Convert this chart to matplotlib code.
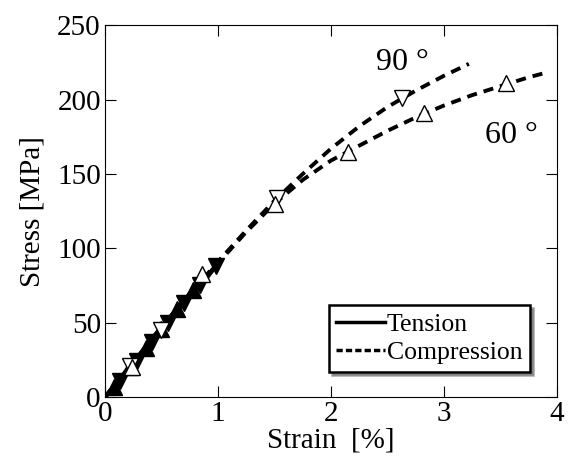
import matplotlib
matplotlib.use('Agg')
import matplotlib.pyplot as plt

plt.rcParams['font.family'] = 'Liberation Serif'

# compression curves
comp90_strain = [0, 0.25, 0.5, 0.75, 1.0, 1.25, 1.5, 1.75, 2.0, 2.25, 2.5, 2.75, 3.0, 3.22]
comp90_stress = [0, 23, 46, 69, 91, 112, 132, 150, 167, 182, 195, 206, 216, 224]
comp60_strain = [0, 0.25, 0.5, 0.75, 1.0, 1.25, 1.5, 1.75, 2.0, 2.25, 2.5, 2.75, 3.0, 3.25, 3.5, 3.75, 3.9]
comp60_stress = [0, 23, 46, 69, 90, 111, 130, 146, 159, 169, 179, 188, 196, 203, 209, 215, 218]

comp90_mk_x = [0.22, 0.5, 1.52, 2.63]
comp90_mk_y = [21, 45, 134, 201]
comp60_mk_x = [0.24, 0.86, 1.5, 2.15, 2.82, 3.55]
comp60_mk_y = [20, 83, 130, 165, 191, 211]

# tension curves
ten90_strain = [0, 0.1, 0.2, 0.3, 0.4, 0.5, 0.6, 0.7, 0.8, 0.9, 1.0]
ten90_stress = [0, 9, 18, 27, 36, 45, 54, 63, 72, 81, 90]
ten60_strain = [0, 0.1, 0.2, 0.3, 0.4, 0.5, 0.6, 0.7, 0.8]
ten60_stress = [0, 9, 19, 28, 38, 47, 56, 65, 74]
ten0_strain = [0, 0.15, 0.3, 0.45, 0.6, 0.75, 0.9, 1.02]
ten0_stress = [0, 13, 27, 40, 54, 67, 80, 92]

ten90_mk_x = [0.13, 0.28, 0.42, 0.56, 0.7, 0.84, 0.98]
ten90_mk_y = [11, 24, 37, 50, 63, 75, 88]
ten60_mk_x = [0.08, 0.22, 0.36, 0.5, 0.64, 0.78]
ten60_mk_y = [7, 20, 33, 46, 59, 72]

fig = plt.figure(figsize=(5.69, 4.66), dpi=100)
ax = fig.add_axes([0.1845, 0.148, 0.7945, 0.798])

dash = (0, (2.6, 1.8))
ax.plot(comp90_strain, comp90_stress, color='black', lw=2.8, linestyle=dash)
ax.plot(comp60_strain, comp60_stress, color='black', lw=2.8, linestyle=dash)

ax.plot(ten90_strain, ten90_stress, color='black', lw=3)
ax.plot(ten60_strain, ten60_stress, color='black', lw=3)
ax.plot(ten0_strain, ten0_stress, color='black', lw=3)
ax.plot(ten90_mk_x, ten90_mk_y, linestyle='none', marker='v', ms=12,
        color='black')
ax.plot(ten60_mk_x, ten60_mk_y, linestyle='none', marker='^', ms=12,
        color='black')

ax.plot(comp90_mk_x, comp90_mk_y, linestyle='none', marker='v', ms=12,
        mfc='white', mec='black', mew=1)
ax.plot(comp60_mk_x, comp60_mk_y, linestyle='none', marker='^', ms=12,
        mfc='white', mec='black', mew=1)

# legend proxies
ax.plot([], [], color='black', lw=2.5, label='Tension')
ax.plot([], [], color='black', lw=2.5, linestyle=(0, (1.8, 0.9)), label='Compression')
leg = ax.legend(loc='lower right', bbox_to_anchor=(0.94, 0.068), fontsize=18.5,
                frameon=True, fancybox=False, shadow=True, handlelength=1.9,
                handletextpad=0.05, borderpad=0.3, labelspacing=0.2,
                borderaxespad=0)
leg.get_frame().set_edgecolor('black')
leg.get_frame().set_linewidth(1.8)

ax.text(2.63, 225, '90 °', fontsize=23, ha='center', va='center')
ax.text(3.6, 176, '60 °', fontsize=23, ha='center', va='center')

ax.set_xlim(0, 4)
ax.set_ylim(0, 250)
ax.set_xticks([0, 1, 2, 3, 4])
ax.set_yticks([0, 50, 100, 150, 200, 250])
ax.tick_params(direction='in', top=True, right=True, length=8, labelsize=21, pad=3)
ax.set_xlabel('Strain  [%]', fontsize=21, labelpad=0)
ax.set_ylabel('Stress [MPa]', fontsize=21, labelpad=8)

fig.savefig('out.png', dpi=100)
